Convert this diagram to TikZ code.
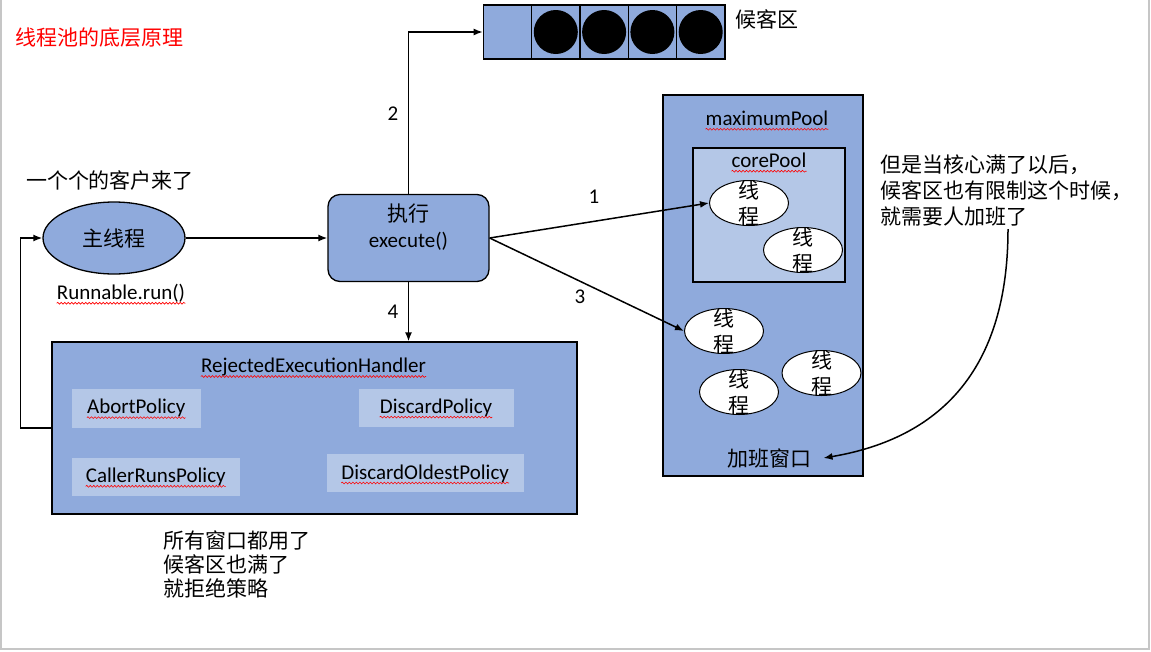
\documentclass[tikz,border=0pt]{standalone}
\usepackage{fontspec}
\setmainfont{Carlito}
\newfontfamily\cjk{Noto Sans CJK SC}
\usetikzlibrary{arrows.meta,positioning,shapes.geometric,decorations.pathmorphing}
\definecolor{poolblue}{HTML}{8FAADC}
\definecolor{coreblue}{HTML}{B4C7E7}
\definecolor{framegray}{HTML}{C6C6C6}
\tikzset{pool/.style={draw=black,fill=poolblue,line width=1.3pt}, core/.style={draw=black,fill=coreblue,line width=1.3pt}, qcell/.style={pool,minimum width=48.3,minimum height=54,inner sep=0pt}, ball/.style={circle,fill=black,minimum size=44,inner sep=0pt}, thread/.style={ellipse,draw=black,fill=white,line width=1pt,minimum width=79,minimum height=45,inner sep=0pt,label={[cn,align=center]center:线\\程}}, policy/.style={fill=coreblue,inner sep=0pt}, cn/.style={font=\cjk\fontsize{21}{26}\selectfont}, spell/.style={draw=red,line width=0.6pt,decorate,decoration={snake,amplitude=0.9pt,segment length=3.5pt}}, word/.style={inner sep=0pt,append after command={([yshift=-4pt]\tikzlastnode.base west) edge[spell] ([yshift=-4pt]\tikzlastnode.base east)}}, flow/.style={-{Latex[length=9pt,width=7pt]},line width=1.5pt}}

\begin{document}
\begin{tikzpicture}[x=1pt,y=-1pt,font=\fontsize{21}{26}\selectfont]
\useasboundingbox (0,0) rectangle (1151,651);
\draw[framegray,line width=2pt] (1,0) -- (1,649) -- (1149,649) -- (1149,0);
\node[cn,text=red,anchor=west] (title) at (12,38) {线程池的底层原理};
% waiting queue
\foreach \i in {0,...,4} \node[qcell] (q\i) at (507.5+48.3*\i,32) {};
\foreach \i in {1,...,4} \node[ball] (b\i) at (q\i) {};
\node[cn] (waitlbl) at (767,19) {候客区};
% caller side
\node[cn] (guests) at (110,180) {一个个的客户来了};
\node[pool,ellipse,minimum width=142,minimum height=72,cn] (main) at (114,238) {主线程};
\node[word] (run) at (121,293) {Runnable.run()};
\node[pool,rounded corners=12,minimum width=161,minimum height=87,align=center,text depth=24pt] (exec) at (408.5,238) {{\cjk 执行}\\execute()};
% pools
\node[pool,minimum width=200,minimum height=381] (maxp) at (763,285.5) {};
\node[word] (maxw) at (767,118) {maximumPool};
\node[core,minimum width=152,minimum height=134] (corep) at (769,215) {};
\node[word] (corew) at (769,160) {corePool};
\node[thread] (t1) at (749,203) {};
\node[thread] (t2) at (803,250) {};
\node[thread] (t3) at (724,331) {};
\node[thread] (t4) at (739,392) {};
\node[thread] (t5) at (821.5,373) {};
\node[cn] (overtime) at (769,458) {加班窗口};
\node[cn,align=left,anchor=west] (note) at (877,190) {但是当核心满了以后，\\候客区也有限制这个时候，\\就需要人加班了};
\coordinate (cstart) at (1008,229);
% rejection
\node[pool,minimum width=525,minimum height=172] (rej) at (314.5,428) {};
\node[word] (rejw) at (313.5,367) {RejectedExecutionHandler};
\node[policy,minimum width=129,minimum height=39] (abort) at (136.2,408) {};
\node[word] at (abort) (abortw) {AbortPolicy};
\node[policy,minimum width=155,minimum height=38] (discard) at (436,407.5) {};
\node[word] at (discard) (discardw) {DiscardPolicy};
\node[policy,minimum width=168,minimum height=38] (caller) at (155.8,476.7) {};
\node[word] at (caller) (callerw) {CallerRunsPolicy};
\node[policy,minimum width=197,minimum height=38] (oldest) at (425.2,473.4) {};
\node[word] at (oldest) (oldestw) {DiscardOldestPolicy};
\node[cn,align=left,anchor=north west,font=\cjk\fontsize{21}{24}\selectfont] (full) at (160,527) {所有窗口都用了\\候客区也满了\\就拒绝策略};
% connectors
\draw[flow] (main.east) -- (exec.west);
\draw[flow] (exec.north) |- (q0.west);
\node (n2) at (393,114) {2};
\draw[flow] (exec.east) -- (t1.west);
\node (n1) at (594,197) {1};
\draw[flow] (exec.east) -- (t3.west);
\node (n3) at (580,297) {3};
\draw[flow] (exec.south) -- (exec.south |- rej.north);
\node (n4) at (393,312) {4};
\draw[flow] (rej.west) -- ++(-31,0) |- (main.west);
\draw[flow] (cstart) .. controls (1008,380) and (930,440) .. ([xshift=9pt]overtime.east);
\end{tikzpicture}
\end{document}
